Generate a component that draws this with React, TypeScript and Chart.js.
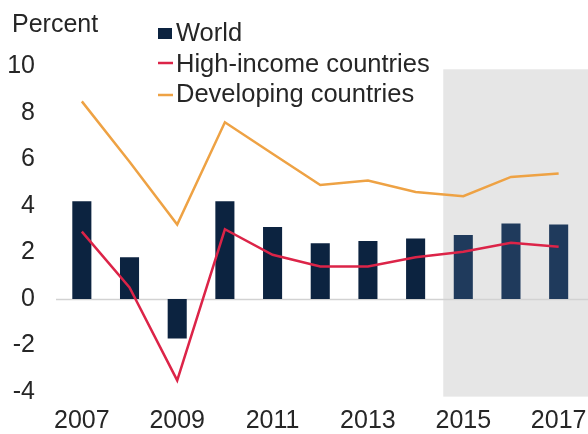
import React, { useEffect, useRef } from "react";
import { Chart, registerables } from "chart.js";

Chart.register(...registerables);

const years = ["2007", "2008", "2009", "2010", "2011", "2012", "2013", "2014", "2015", "2016", "2017"];
const world = [4.2, 1.8, -1.7, 4.2, 3.1, 2.4, 2.5, 2.6, 2.75, 3.25, 3.2];
const highIncome = [2.9, 0.5, -3.5, 3.0, 1.9, 1.4, 1.4, 1.8, 2.03, 2.42, 2.25];
const developing = [8.5, 5.9, 3.2, 7.6, 6.25, 4.9, 5.1, 4.6, 4.42, 5.25, 5.4];
const firstForecastYear = "2015";
const yTicks = [-4, -2, 0, 2, 4, 6, 8, 10];

const NAVY = "#0c2340";
const NAVY_FC = "#1f3a5c";
const RED = "#dc2448";
const ORANGE = "#eea244";
const FONT = "'Liberation Sans', Arial, sans-serif";
const TEXT = "#262626";

const overlayPlugin = {
  id: "overlay",
  beforeDraw(chart: any) {
    const { ctx, scales } = chart;
    const x = scales.x;
    const y = scales.y;
    const idx = years.indexOf(firstForecastYear);
    const left = x.getPixelForValue(idx - 0.42);
    const top = y.getPixelForValue(9.88);
    const bottom = y.getPixelForValue(-4.2);
    ctx.save();
    ctx.fillStyle = "#e6e6e6";
    ctx.fillRect(left, top, chart.width - left, bottom - top);
    // zero line
    const y0 = Math.round(y.getPixelForValue(0)) + 0.5;
    ctx.strokeStyle = "#d2d2d2";
    ctx.lineWidth = 1.5;
    ctx.beginPath();
    ctx.moveTo(chart.chartArea.left - 2, y0);
    ctx.lineTo(chart.width, y0);
    ctx.stroke();
    ctx.restore();
  },
  afterDraw(chart: any) {
    const { ctx } = chart;
    ctx.save();
    ctx.fillStyle = TEXT;
    ctx.textBaseline = "alphabetic";
    ctx.textAlign = "left";
    ctx.font = `25px ${FONT}`;
    ctx.fillText("Percent", 12, 32);

    ctx.font = `25.5px ${FONT}`;
    // World
    ctx.fillStyle = NAVY;
    ctx.fillRect(158, 28, 14, 11);
    ctx.fillStyle = TEXT;
    ctx.fillText("World", 176, 41);
    // High-income
    ctx.strokeStyle = RED;
    ctx.lineWidth = 2.5;
    ctx.beginPath();
    ctx.moveTo(158, 63);
    ctx.lineTo(173, 63);
    ctx.stroke();
    ctx.fillText("High-income countries", 176, 71.5);
    // Developing
    ctx.strokeStyle = ORANGE;
    ctx.beginPath();
    ctx.moveTo(158, 95);
    ctx.lineTo(173, 95);
    ctx.stroke();
    ctx.fillText("Developing countries", 176, 102);
    ctx.restore();
  },
};

export default function App() {
  const ref = useRef<HTMLCanvasElement | null>(null);

  useEffect(() => {
    if (!ref.current) return;
    const fcIdx = years.indexOf(firstForecastYear);
    const chart = new Chart(ref.current, {
      type: "bar",
      data: {
        labels: years,
        datasets: [
          {
            type: "bar",
            label: "World",
            data: world,
            backgroundColor: (c: any) => (c.dataIndex >= fcIdx ? NAVY_FC : NAVY),
            barPercentage: 0.4,
            categoryPercentage: 1,
            order: 3,
          },
          {
            type: "line",
            label: "High-income countries",
            data: highIncome,
            borderColor: RED,
            borderWidth: 2.5,
            pointRadius: 0,
            tension: 0,
            order: 1,
          },
          {
            type: "line",
            label: "Developing countries",
            data: developing,
            borderColor: ORANGE,
            borderWidth: 2.5,
            pointRadius: 0,
            tension: 0,
            order: 2,
          },
        ] as any,
      },
      options: {
        responsive: false,
        animation: false,
        devicePixelRatio: 1,
        layout: { padding: { top: 66.5, right: 5.5, bottom: 0, left: 0 } },
        plugins: {
          legend: { display: false },
          tooltip: { enabled: false },
          title: { display: false },
        },
        scales: {
          x: {
            offset: true,
            grid: { display: false, drawTicks: false },
            border: { display: false },
            ticks: {
              autoSkip: false,
              maxRotation: 0,
              padding: 0,
              color: TEXT,
              font: { family: FONT, size: 25, lineHeight: 2.32 },
              callback: (_v: any, i: number) => (i % 2 === 0 ? years[i] : ""),
            },
            afterFit: (s: any) => {
              s.height = 42;
            },
          },
          y: {
            min: -4,
            max: 10,
            grid: { display: false, drawTicks: false },
            border: { display: false },
            afterBuildTicks: (s: any) => {
              s.ticks = yTicks.map((v) => ({ value: v }));
            },
            ticks: {
              padding: 23,
              color: TEXT,
              font: { family: FONT, size: 25 },
            },
            afterFit: (s: any) => {
              s.width = 58;
            },
          },
        },
      },
      plugins: [overlayPlugin],
    });
    return () => chart.destroy();
  }, []);

  return (
    <div style={{ position: "absolute", left: 0, top: 0, width: 588, height: 434, background: "#fff" }}>
      <canvas ref={ref} width={588} height={434} style={{ width: 588, height: 434, display: "block" }} />
    </div>
  );
}
